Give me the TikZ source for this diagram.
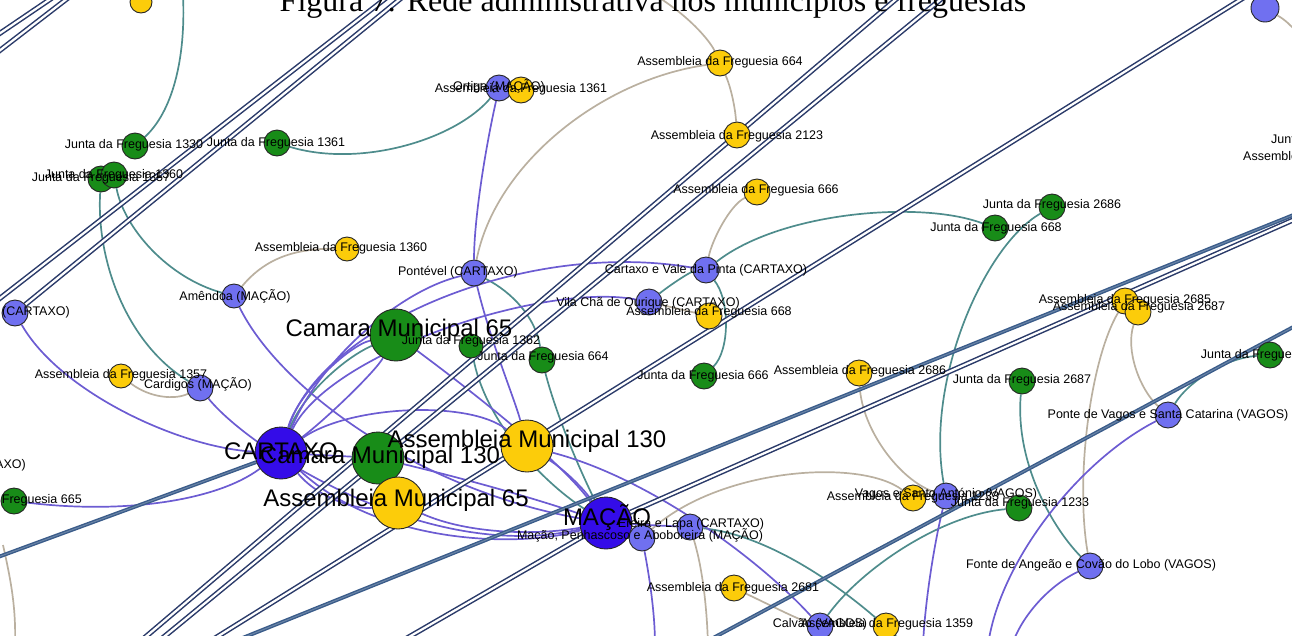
\documentclass[tikz,border=0pt]{standalone}
\usepackage{fontspec}
\setmainfont{Liberation Serif}
\newfontfamily\labfont{Liberation Sans}
\definecolor{gfill}{RGB}{24,140,24}
\definecolor{yfill}{RGB}{252,204,10}
\definecolor{lbfill}{RGB}{112,112,240}
\definecolor{dbfill}{RGB}{52,12,232}
\definecolor{purp}{RGB}{108,92,210}
\definecolor{tealc}{RGB}{78,140,140}
\definecolor{tanc}{RGB}{186,176,160}
\definecolor{navyc}{RGB}{42,58,105}
\definecolor{steelc}{RGB}{58,92,138}
\pgfdeclarelayer{edgelayer}
\pgfdeclarelayer{toplayer}
\pgfsetlayers{edgelayer,main,toplayer}
\tikzset{
  vtx/.style={circle, draw=black!85, line width=0.9pt, inner sep=0pt, minimum size=26pt},
  gv/.style={vtx, fill=gfill},
  yv/.style={vtx, fill=yfill},
  bv/.style={vtx, fill=lbfill},
  dv/.style={vtx, fill=dbfill},
  bigv/.style={minimum size=52pt},
  lab/.style={font=\labfont\fontsize{12.5}{14}\selectfont, inner sep=0pt, text=black},
  biglab/.style={font=\labfont\fontsize{24}{28}\selectfont, inner sep=0pt, text=black},
  pe/.style={draw=purp, line width=1.7pt},
  te/.style={draw=tealc, line width=1.7pt},
  ae/.style={draw=tanc, line width=1.7pt},
  ne/.style={draw=navyc, double=white, double distance=2.2pt, line width=1.5pt},
  se/.style={draw=steelc, double=steelc!75, double distance=1pt, line width=1.4pt}
}
\begin{document}
\begin{tikzpicture}[x=1pt,y=-1pt]
\useasboundingbox (0,0) rectangle (1292,635);
\clip (0,0) rectangle (1292,635);
% ---------- vertices ----------
\node[yv,minimum size=22pt] (ytop) at (141,2) {};
\node[gv] (j1330) at (135,146) {};
\node[gv] (j1361) at (277,143) {};
\node[gv] (j1357) at (101,179) {};
\node[gv] (j1360) at (114,175) {};
\node[yv,minimum size=24pt] (a1360) at (347,249) {};
\node[bv,minimum size=24pt] (amendoa) at (234,296) {};
\node[bv] (cartL) at (15,313) {};
\node[gv] (j665) at (14,501) {};
\node[yv,minimum size=24pt] (a1357) at (121,376) {};
\node[bv] (cardigos) at (200,388) {};
\node[gv,bigv] (cm65) at (396,335) {};
\node[gv,minimum size=24pt] (j1362) at (471,346) {};
\node[gv] (j664) at (542,360) {};
\node[dv,bigv] (cartaxo) at (281,453) {};
\node[gv,bigv] (cm130) at (378,458) {};
\node[yv,bigv] (am130) at (527,446) {};
\node[yv,bigv] (am65) at (398,503) {};
\node[dv,bigv] (macao) at (606,523) {};
\node[bv] (mpa) at (642,538) {};
\node[bv] (ereira) at (690,527) {};
\node[yv] (a2681) at (734,588) {};
\node[bv] (calvao) at (820,626) {};
\node[yv] (a1359) at (886,626) {};
\node[bv] (ortiga) at (499,88) {};
\node[yv] (a1361) at (521,90) {};
\node[yv] (a664) at (720,63) {};
\node[yv] (a2123) at (737,135) {};
\node[yv] (a666) at (757,192) {};
\node[bv] (pontevel) at (474,273) {};
\node[bv] (cvp) at (706,270) {};
\node[bv] (vilacha) at (649,302) {};
\node[yv] (a668) at (709,316) {};
\node[gv] (j666) at (704,376) {};
\node[yv] (a2686) at (859,373) {};
\node[gv] (j2687) at (1022,381) {};
\node[gv] (j2686) at (1052,207) {};
\node[gv] (j668) at (995,228) {};
\node[yv] (a2685) at (1125,301) {};
\node[yv] (a2687) at (1138,312) {};
\node[gv] (j2685) at (1270,355) {};
\node[bv] (ponte) at (1168,415) {};
\node[bv,minimum size=28pt] (tr) at (1265,8) {};
\node[yv] (a1233) at (913,498) {};
\node[bv] (vsa) at (946,496) {};
\node[gv] (j1233) at (1019,508) {};
\node[bv] (fonte) at (1090,566) {};
% ---------- free ends ----------
\coordinate (ct1) at (655,-5);
\coordinate (ct2) at (708,645);
\coordinate (ct3) at (3,545);
\coordinate (ct4) at (15,645);
\coordinate (ct5) at (1300,35);
\coordinate (ct6) at (183,-5);
\coordinate (ct7) at (905,645);
\coordinate (ct8) at (655,645);
\coordinate (ct9) at (923,645);
\coordinate (ct10) at (988,645);
\coordinate (ct11) at (1012,645);
\coordinate (cn1a) at (-10,40);
\coordinate (cn1b) at (52,-2);
\coordinate (cn2a) at (-10,58);
\coordinate (cn2b) at (68,-2);
\coordinate (cn3a) at (-10,306);
\coordinate (cn3b) at (390,-5);
\coordinate (cn4b) at (405,-5);
\coordinate (cn5a) at (136,645);
\coordinate (cn5b) at (901,-5);
\coordinate (cn6a) at (154,645);
\coordinate (cn6b) at (946,-5);
\coordinate (cn7a) at (204,645);
\coordinate (cn7b) at (1248,-5);
\coordinate (cn9a) at (395,645);
\coordinate (cfar) at (1420,164);
\coordinate (cn12a) at (700,645);
\coordinate (cn12b) at (1310,318);
\coordinate (cs1) at (-10,560);
\coordinate (cs2) at (225,645);
% ---------- edges ----------
\begin{pgfonlayer}{edgelayer}
\clip (0,0) rectangle (1292,635);
% tan
\draw[ae] (a1360) .. controls (290,248) and (262,262) .. (amendoa);
\draw[ae] (a1357) .. controls (150,398) and (175,400) .. (cardigos);
\draw[ae] (ct1) .. controls (695,20) and (712,45) .. (a664);
\draw[ae] (a664) .. controls (730,85) and (735,105) .. (a2123);
\draw[ae] (a664) .. controls (600,80) and (495,165) .. (pontevel);
\draw[ae] (a666) .. controls (730,205) and (712,240) .. (cvp);
\draw[ae] (a2686) .. controls (862,430) and (900,480) .. (vsa);
\draw[ae] (a2685) .. controls (1090,360) and (1075,480) .. (fonte);
\draw[ae] (a2687) .. controls (1125,350) and (1140,390) .. (ponte);
\draw[ae] (mpa) .. controls (720,468) and (860,458) .. (a1233);
\draw[ae] (ereira) .. controls (703,570) and (707,610) .. (ct2);
\draw[ae] (a2681) .. controls (770,605) and (795,618) .. (calvao);
\draw[ae] (ct3) .. controls (12,585) and (16,610) .. (ct4);
\draw[ae] (a1361) -- (ortiga);
\draw[ae] (a668) -- (vilacha);
\draw[ae] (tr) .. controls (1285,20) .. (ct5);
% teal
\draw[te] (ct6) .. controls (186,60) and (172,112) .. (j1330);
\draw[te] (j1361) .. controls (360,168) and (455,140) .. (ortiga);
\draw[te] (j1357) .. controls (96,262) and (128,345) .. (cardigos);
\draw[te] (j1360) .. controls (124,228) and (168,278) .. (amendoa);
\draw[te] (pontevel) .. controls (512,292) and (536,318) .. (j664);
\draw[te] (j1362) .. controls (485,420) and (540,480) .. (macao);
\draw[te] (j664) .. controls (555,410) and (575,460) .. (macao);
\draw[te] (cvp) .. controls (780,212) and (920,200) .. (j668);
\draw[te] (vilacha) .. controls (670,285) and (690,272) .. (cvp);
\draw[te] (j2686) .. controls (985,245) and (925,380) .. (vsa);
\draw[te] (cvp) .. controls (730,300) and (730,350) .. (j666);
\draw[te] (j2687) .. controls (1015,460) and (1050,525) .. (fonte);
\draw[te] (j1233) .. controls (940,515) and (860,570) .. (calvao);
\draw[te] (ereira) .. controls (770,535) and (850,590) .. (ct7);
\draw[te] (j2685) .. controls (1225,358) and (1188,382) .. (ponte);
\draw[te] (cm65) .. controls (340,360) and (300,400) .. (cartaxo);
% purple
\draw[pe] (cartL) .. controls (60,392) and (180,448) .. (cartaxo);
\draw[pe] (j665) .. controls (120,514) and (215,502) .. (cartaxo);
\draw[pe] (amendoa) .. controls (280,390) and (420,490) .. (macao);
\draw[pe] (cardigos) .. controls (250,450) and (430,565) .. (macao);
\draw[pe] (cartaxo) .. controls (320,360) and (400,290) .. (pontevel);
\draw[pe] (cartaxo) .. controls (318,330) and (520,238) .. (cvp);
\draw[pe] (cartaxo) .. controls (330,352) and (545,282) .. (vilacha);
\draw[pe] (cartaxo) .. controls (298,392) and (350,345) .. (cm65);
\draw[pe] (cartaxo) .. controls (325,420) and (375,372) .. (cm65);
\draw[pe] (cartaxo) .. controls (350,405) and (470,400) .. (am130);
\draw[pe] (cartaxo) -- (cm130);
\draw[pe] (cartaxo) .. controls (320,500) and (360,510) .. (am65);
\draw[pe] (cartaxo) .. controls (380,545) and (520,548) .. (macao);
\draw[pe] (am130) .. controls (565,470) and (585,490) .. (macao);
\draw[pe] (am65) .. controls (470,535) and (540,535) .. (macao);
\draw[pe] (cm130) .. controls (470,480) and (540,500) .. (macao);
\draw[pe] (cm65) .. controls (470,390) and (560,460) .. (macao);
\draw[pe] (ortiga) .. controls (485,150) and (474,220) .. (pontevel);
\draw[pe] (pontevel) .. controls (490,340) and (515,400) .. (am130);
\draw[pe] (mpa) .. controls (650,580) and (655,615) .. (ct8);
\draw[pe] (am130) .. controls (650,478) and (760,560) .. (calvao);
\draw[pe] (macao) -- (ereira);
\draw[pe] (vsa) .. controls (935,540) and (925,600) .. (ct9);
\draw[pe] (ponte) .. controls (1080,460) and (1000,560) .. (ct10);
\draw[pe] (fonte) .. controls (1050,585) and (1022,615) .. (ct11);
% long double edges
\draw[ne] (cn1a) -- (cn1b);
\draw[ne] (cn2a) -- (cn2b);
\draw[ne] (cn3a) -- (cn3b);
\draw[ne] (cartL) -- (cn4b);
\draw[ne] (cn5a) -- (cn5b);
\draw[ne] (cn6a) -- (cn6b);
\draw[ne] (cn7a) -- (cn7b);
\draw[ne] (macao) -- (cn9a);
\draw[ne] (macao) -- (cfar);
\draw[se] (cn12a) -- (cn12b);
\draw[se] (cs1) -- (cartaxo);
\draw[se] (cs2) -- (cfar);
\end{pgfonlayer}
% ---------- labels ----------
\begin{pgfonlayer}{toplayer}
\clip (0,0) rectangle (1292,635);
\node[anchor=base, font=\fontsize{32}{36}\selectfont, inner sep=0pt] (title) at (653,11) {Figura 7: Rede administrativa nos municípios e freguesias};
\node[lab] (l-j1330) at (134,145) {Junta da Freguesia 1330};
\node[lab] (l-j1361) at (276,143) {Junta da Freguesia 1361};
\node[lab] (l-j1357) at (101,178) {Junta da Freguesia 1357};
\node[lab] (l-j1360) at (114,175) {Junta da Freguesia 1360};
\node[lab] (l-a1360) at (341,248) {Assembleia da Freguesia 1360};
\node[lab] (l-amendoa) at (235,296) {Amêndoa (MAÇÃO)};
\node[lab,anchor=east] (l-cartL) at (70,312) {(CARTAXO)};
\node[lab,anchor=east] (l-cartL2) at (26,465) {(CARTAXO)};
\node[lab,anchor=east] (l-j665) at (82,500) {Junta da Freguesia 665};
\node[lab] (l-a1357) at (121,375) {Assembleia da Freguesia 1357};
\node[lab] (l-cardigos) at (198,384) {Cardigos (MAÇÃO)};
\node[lab] (l-j1362) at (471,341) {Junta da Freguesia 1362};
\node[lab] (l-j664) at (543,357) {Junta da Freguesia 664};
\node[lab] (l-mpa) at (640,535) {Mação, Penhascoso e Aboboreira (MAÇÃO)};
\node[lab] (l-ereira) at (691,524) {Ereira e Lapa (CARTAXO)};
\node[lab] (l-a2681) at (733,588) {Assembleia da Freguesia 2681};
\node[lab] (l-calvao) at (820,624) {Calvão (VAGOS)};
\node[lab] (l-a1359) at (887,624) {Assembleia da Freguesia 1359};
\node[lab] (l-ortiga) at (499,86) {Ortiga (MAÇÃO)};
\node[lab] (l-a1361) at (521,89) {Assembleia da Freguesia 1361};
\node[lab] (l-a664) at (720,62) {Assembleia da Freguesia 664};
\node[lab] (l-a2123) at (737,136) {Assembleia da Freguesia 2123};
\node[lab] (l-a666) at (756,190) {Assembleia da Freguesia 666};
\node[lab] (l-pontevel) at (458,272) {Pontével (CARTAXO)};
\node[lab] (l-cvp) at (706,270) {Cartaxo e Vale da Pinta (CARTAXO)};
\node[lab] (l-vilacha) at (648,303) {Vila Chã de Ourique (CARTAXO)};
\node[lab] (l-a668) at (709,312) {Assembleia da Freguesia 668};
\node[lab] (l-j666) at (703,376) {Junta da Freguesia 666};
\node[lab] (l-a2686) at (860,371) {Assembleia da Freguesia 2686};
\node[lab] (l-j2687) at (1022,380) {Junta da Freguesia 2687};
\node[lab] (l-j2686) at (1052,205) {Junta da Freguesia 2686};
\node[lab] (l-j668) at (996,228) {Junta da Freguesia 668};
\node[lab] (l-a2685) at (1125,300) {Assembleia da Freguesia 2685};
\node[lab] (l-a2687) at (1139,307) {Assembleia da Freguesia 2687};
\node[lab] (l-j2685) at (1270,355) {Junta da Freguesia 2685};
\node[lab] (l-ponte) at (1168,415) {Ponte de Vagos e Santa Catarina (VAGOS)};
\node[lab,anchor=west] (l-offj) at (1271,140) {Junta da Freguesia 2123};
\node[lab,anchor=west] (l-offa) at (1243,157) {Assembleia da Freguesia 2123};
\node[lab] (l-a1233) at (913,497) {Assembleia da Freguesia 1233};
\node[lab] (l-vsa) at (946,494) {Vagos e Santo António (VAGOS)};
\node[lab] (l-j1233) at (1020,503) {Junta da Freguesia 1233};
\node[lab] (l-fonte) at (1091,565) {Fonte de Angeão e Covão do Lobo (VAGOS)};
\node[biglab] (l-cm65) at (399,330) {Camara Municipal 65};
\node[biglab] (l-cartaxo) at (281,451) {CARTAXO};
\node[biglab] (l-cm130) at (380,457) {Camara Municipal 130};
\node[biglab] (l-am130) at (527,441) {Assembleia Municipal 130};
\node[biglab] (l-am65) at (396,500) {Assembleia Municipal 65};
\node[biglab] (l-macao) at (607,517) {MAÇÃO};
\end{pgfonlayer}
\end{tikzpicture}
\end{document}
